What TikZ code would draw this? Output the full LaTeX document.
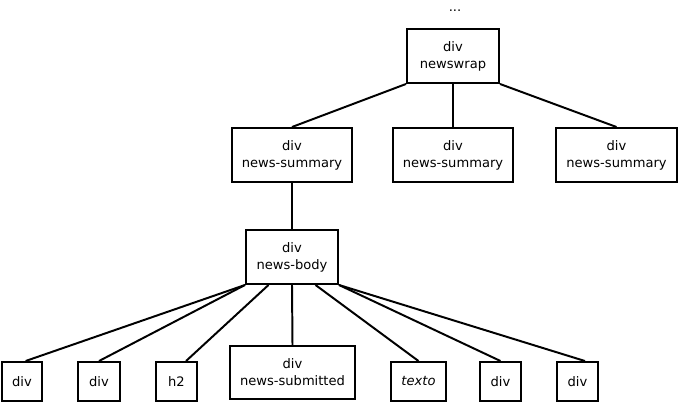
\documentclass[tikz,border=0pt]{standalone}
\usepackage{fontspec}
\setmainfont{DejaVu Sans}
\usepackage{tikz}
\usetikzlibrary{positioning}
\tikzset{
    tag/.style={
           draw, line width=1.4pt,
           inner sep=0pt,
           align=center,
           font=\fontsize{9.3}{12}\selectfont,
           minimum height=1.35cm,
           },
    leaf/.style={
           tag,
           minimum height=0.975cm,
           minimum width=1.025cm,
           },
}

\begin{document}
\begin{tikzpicture}
\useasboundingbox (0,0) rectangle (16.975,10.05);
\node[font=\fontsize{9.3}{12}\selectfont] (dots) at (11.375,9.78) {...};
\node[tag, minimum width=2.3cm] (wrap) at (11.325,8.65) {div\\newswrap};
\node[tag, minimum width=3cm] (sumA) at (7.3,6.175) {div\\news-summary};
\node[tag, minimum width=3cm] (sumB) at (11.325,6.175) {div\\news-summary};
\node[tag, minimum width=3.025cm] (sumC) at (15.4125,6.175) {div\\news-summary};
\node[tag, minimum width=2.3cm] (body) at (7.3,3.625) {div\\news-body};
\node[leaf, minimum width=1cm] (divA) at (0.55,0.5125) {div};
\node[leaf, minimum width=1.05cm] (divB) at (2.475,0.5125) {div};
\node[leaf] (htwo) at (4.4125,0.5125) {h2};
\node[tag, minimum width=3.125cm, minimum height=1.325cm] (sub) at (7.3125,0.7375) {div\\news-submitted};
\node[leaf, minimum width=1.375cm] (texto) at (10.4625,0.5125) {\itshape texto};
\node[leaf] (divC) at (12.5125,0.5125) {div};
\node[leaf] (divD) at (14.4375,0.5125) {div};
\draw[line width=1.4pt] (wrap.south west) -- (sumA.north);
\draw[line width=1.4pt] (wrap.south) -- (sumB.north);
\draw[line width=1.4pt] (wrap.south east) -- (sumC.north);
\draw[line width=1.4pt] (sumA.south) -- (body.north);
\draw[line width=1.4pt] (body.south west) -- (divA.80);
\draw[line width=1.4pt] (body.south west) -- (divB.north);
\draw[line width=1.4pt] (body.-130) -- (htwo.65);
\draw[line width=1.4pt] (body.south) -- (sub.north);
\draw[line width=1.4pt] (body.-50) -- (texto.north);
\draw[line width=1.4pt] (body.south east) -- (divC.north);
\draw[line width=1.4pt] (body.south east) -- (divD.70);
\end{tikzpicture}
\end{document}
